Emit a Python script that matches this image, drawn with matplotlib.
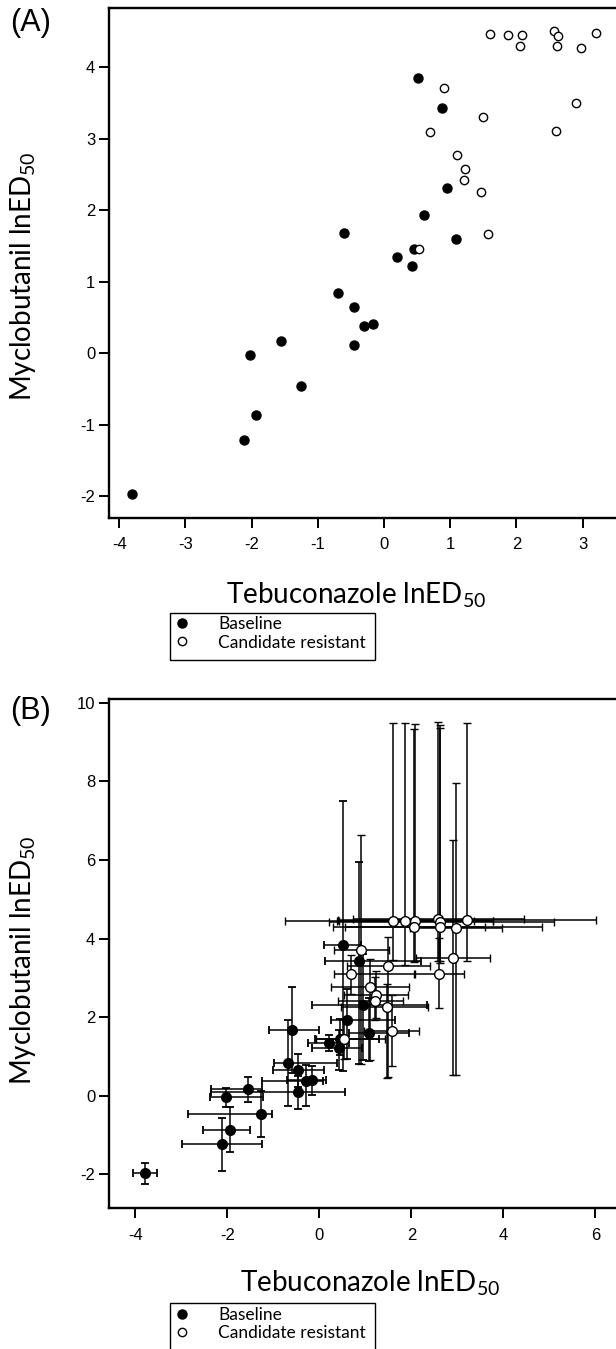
import numpy as np
import matplotlib
matplotlib.use("Agg")
import matplotlib.pyplot as plt
from matplotlib.lines import Line2D
from matplotlib.patches import Rectangle

plt.rcParams['font.family'] = ['Liberation Sans', 'DejaVu Sans']
plt.rcParams['mathtext.fontset'] = 'custom'
plt.rcParams['mathtext.rm'] = 'Lato'
plt.rcParams['axes.unicode_minus'] = False

# baseline isolates (filled)
base_x = [0.51, 0.87, 0.95, 0.60, -0.60, 1.09, 0.20, 0.45, 0.43, -0.69,
          -0.46, -0.30, -0.16, -0.46, -1.55, -2.02, -1.26, -1.94, -2.11, -3.80]
base_y = [3.84, 3.42, 2.31, 1.93, 1.68, 1.59, 1.35, 1.45, 1.22, 0.84,
          0.65, 0.385, 0.41, 0.11, 0.17, -0.03, -0.46, -0.86, -1.22, -1.97]
base_xlo = [0.40, 0.75, 1.10, 0.35, 0.50, 0.45, 0.45, 0.55, 0.60, 0.30,
            0.55, 0.94, 0.55, 1.90, 0.80, 0.35, 1.59, 0.60, 0.87, 0.26]
base_xhi = [0.40, 1.35, 1.40, 1.05, 0.60, 0.85, 0.45, 0.85, 0.50, 1.07,
            0.56, 0.38, 0.30, 1.01, 0.31, 0.80, 0.22, 0.43, 0.87, 0.26]
base_ylo = [3.20, 2.60, 1.40, 1.00, 1.10, 0.70, 0.20, 0.40, 0.55, 1.09,
            0.42, 0.65, 0.40, 0.45, 0.32, 0.24, 0.59, 0.58, 0.68, 0.28]
base_yhi = [3.66, 2.54, 1.30, 0.80, 1.10, 0.90, 0.20, 0.50, 0.45, 1.09,
            0.42, 0.40, 0.35, 0.40, 0.30, 0.23, 0.59, 0.59, 0.65, 0.26]

# candidate resistant isolates (open)
res_x = [1.60, 1.87, 2.08, 2.06, 2.57, 2.63, 2.62, 2.97, 3.20, 0.91,
         2.90, 1.50, 0.69, 2.60, 1.10, 1.23, 1.21, 1.46, 1.57, 0.53]
res_y = [4.46, 4.44, 4.44, 4.30, 4.50, 4.43, 4.29, 4.27, 4.47, 3.71,
         3.50, 3.30, 3.09, 3.11, 2.77, 2.57, 2.42, 2.25, 1.66, 1.45]
res_xlo = [2.35, 1.49, 1.66, 1.51, 1.83, 2.43, 2.33, 1.00, 2.80, 0.60,
           0.80, 0.90, 0.37, 0.55, 0.85, 0.70, 0.80, 1.00, 0.60, 0.60]
res_xhi = [2.17, 1.50, 1.69, 1.54, 1.89, 2.47, 2.22, 1.00, 2.82, 0.60,
           0.80, 0.90, 1.38, 0.55, 0.85, 0.70, 0.60, 0.90, 0.60, 0.90]
res_ylo = [1.00, 1.10, 1.00, 0.90, 1.08, 1.00, 0.90, 3.75, 1.05, 2.90,
           2.98, 2.82, 0.50, 0.88, 1.85, 0.60, 0.50, 1.80, 0.91, 0.50]
res_yhi = [5.02, 5.04, 5.03, 5.03, 5.00, 5.00, 5.06, 3.70, 5.01, 2.93,
           3.00, 0.75, 0.50, 0.90, 0.70, 0.60, 0.60, 0.60, 0.90, 0.50]

W, H = 616, 1349
fig = plt.figure(figsize=(W / 100, H / 100), dpi=100)

def px(x0, top, w, bot):
    return [x0 / W, 1 - bot / H, w / W, (bot - top) / H]

axA = fig.add_axes(px(109.2, 8.3, 537.6, 517.7))
axB = fig.add_axes(px(109.2, 699.3, 537.6, 1208.3))

for ax in (axA, axB):
    for s in ax.spines.values():
        s.set_linewidth(1.7)
    ax.tick_params(direction='out', length=7, width=1.4, labelsize=12)
    ax.tick_params(axis='x', pad=7)
    ax.tick_params(axis='y', pad=3)

# panel A
axA.plot(base_x, base_y, 'o', color='black', ms=6.5, zorder=3)
axA.plot(res_x, res_y, 'o', mfc='white', mec='black', mew=1.0, ms=6, zorder=3)
axA.set_xlim(-4.15, 3.97)
axA.set_ylim(-2.3, 4.82)
axA.set_xticks(range(-4, 4))
axA.set_yticks(range(-2, 5))

# panel B
eb = dict(fmt='o', ecolor='black', elinewidth=1.1, capsize=2.7, capthick=1.3)
axB.errorbar(base_x, base_y, xerr=[base_xlo, base_xhi], yerr=[base_ylo, base_yhi],
             color='black', ms=7, **eb)
axB.errorbar(res_x, res_y, xerr=[res_xlo, res_xhi], yerr=[res_ylo, res_yhi],
             mfc='white', mec='black', mew=1.0, ms=7, **eb)
axB.set_xlim(-4.57, 7.12)
axB.set_ylim(-2.86, 10.09)
axB.set_xticks(range(-4, 7, 2))
axB.set_yticks(range(-2, 11, 2))

lab_font = dict(family=['Lato', 'DejaVu Sans'], fontsize=20)
xlab = 'Tebuconazole lnED$_{\\mathregular{50}}$'
ylab = 'Myclobutanil lnED$_{\\mathregular{50}}$'
fig.text(356 / W, 1 - 595 / H, xlab, ha='center', va='center', **lab_font)
fig.text(370 / W, 1 - 1283 / H, xlab, ha='center', va='center', **lab_font)
fig.text(23 / W, 1 - 276 / H, ylab, ha='center', va='center', rotation=90, **lab_font)
fig.text(23 / W, 1 - 960 / H, ylab, ha='center', va='center', rotation=90, **lab_font)

fig.text(10 / W, 1 - 8 / H, '(A)', ha='left', va='top', fontsize=22)
fig.text(10 / W, 1 - 696 / H, '(B)', ha='left', va='top', fontsize=22)

handles = [Line2D([], [], marker='o', ls='none', color='black', ms=6.5),
           Line2D([], [], marker='o', ls='none', mfc='white', mec='black', mew=1.0, ms=6)]
labels = ['Baseline', 'Candidate resistant']
for top, bot in ((612.7, 660.0), (1303.3, 1352.0)):
    fig.add_artist(Rectangle((170 / W, 1 - bot / H), 205 / W, (bot - top) / H,
                             transform=fig.transFigure, fill=False,
                             edgecolor='black', linewidth=1.0))
    fig.legend(handles, labels, loc='upper left',
               bbox_to_anchor=(172 / W, 1 - (top + 2) / H),
               bbox_transform=fig.transFigure, borderaxespad=0, frameon=False,
               borderpad=0.1, labelspacing=0.12, handlelength=1.0,
               handletextpad=1.55,
               prop={'family': ['Lato', 'DejaVu Sans'], 'size': 12.5})

fig.savefig('out.png', dpi=100)
